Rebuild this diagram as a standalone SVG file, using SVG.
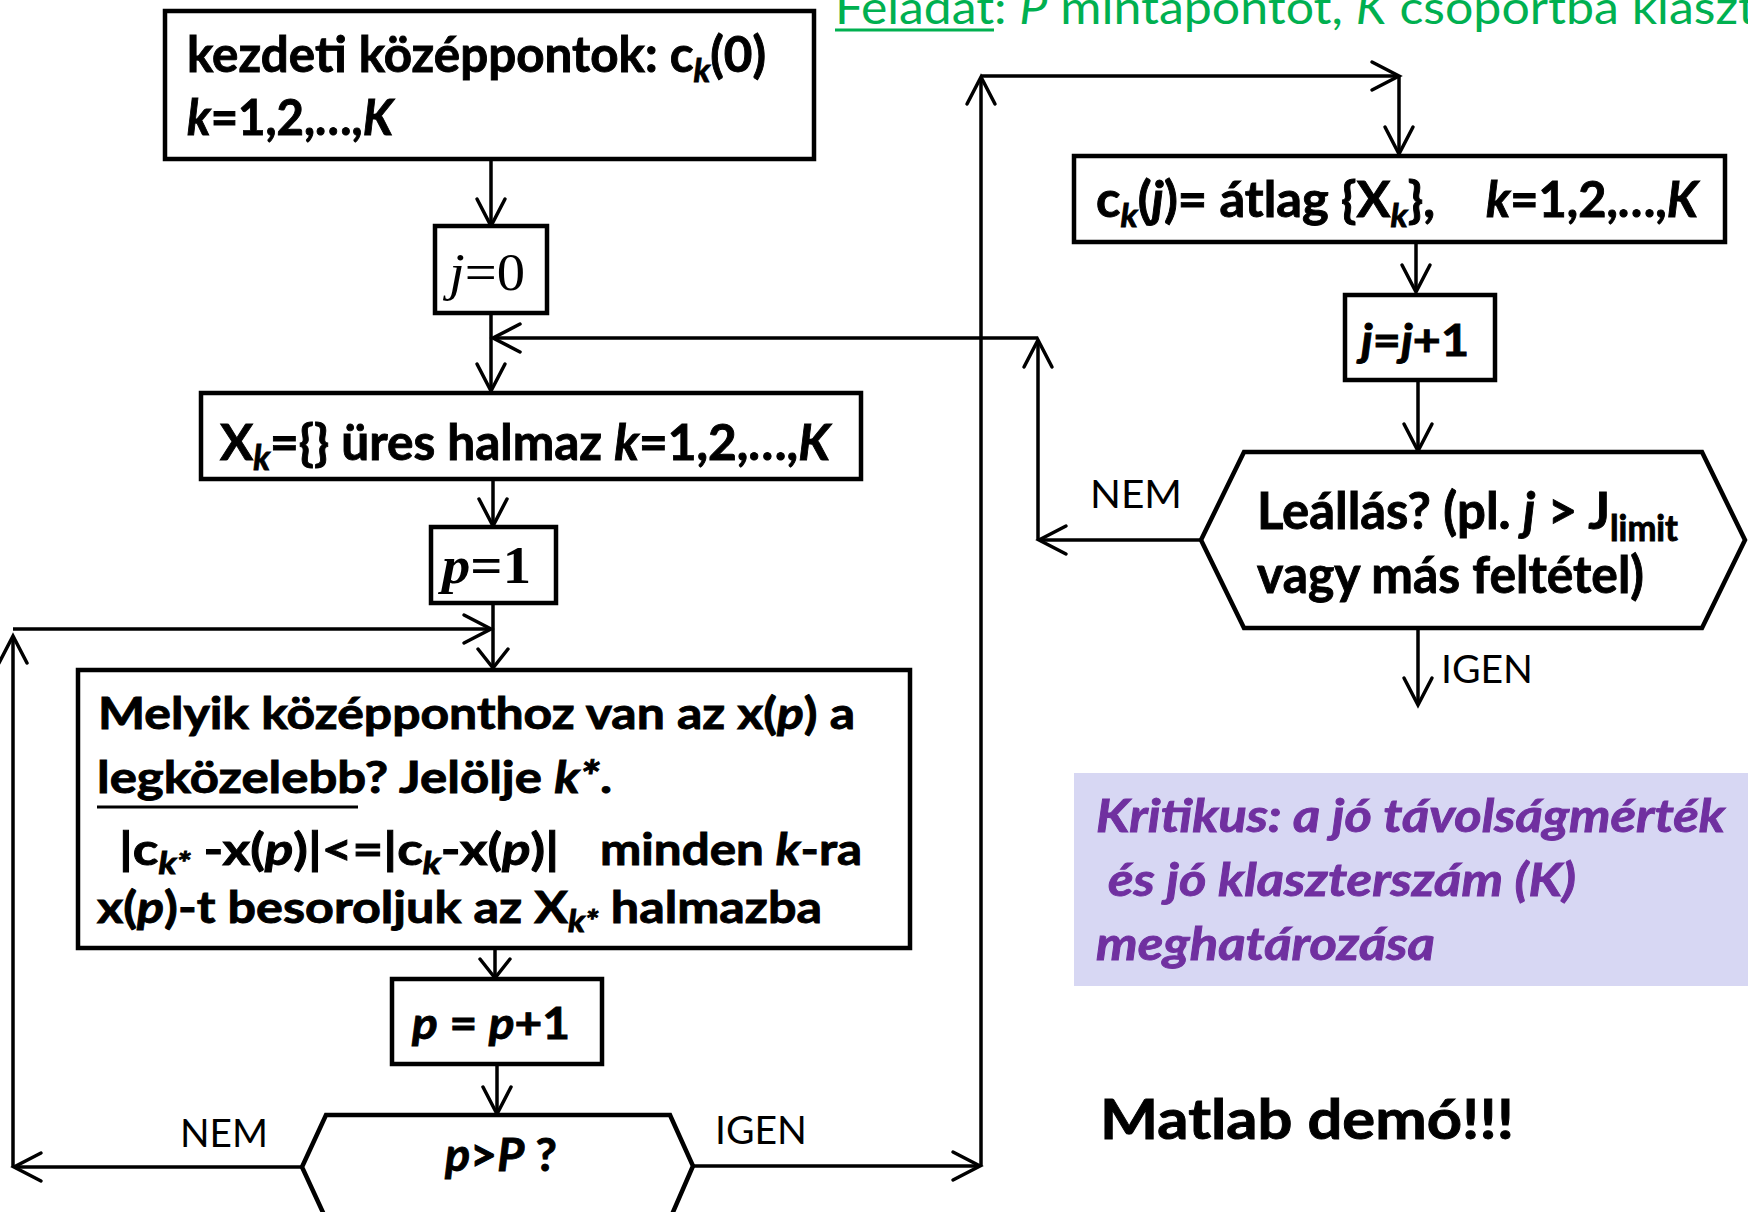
<svg xmlns="http://www.w3.org/2000/svg" width="1748" height="1212" viewBox="0 0 1748 1212">
<style>
.box{fill:#fff;stroke:#000;stroke-width:4.5;stroke-linejoin:miter}
.c{fill:none;stroke:#000;stroke-width:3.5}
.t{font-family:Lato,"Open Sans","DejaVu Sans",sans-serif;font-weight:bold;fill:#000;stroke:#000;stroke-width:0.9px}
.pu{fill:#7030A0;stroke:#7030A0}
.i{font-style:italic}
.sub{font-size:68%}
.serif{font-family:"Liberation Serif","Times New Roman",serif}
.lbl{font-family:Lato,"Open Sans","DejaVu Sans",sans-serif;font-weight:normal;font-size:39px;fill:#000}
.green{font-family:Lato,"Open Sans",sans-serif;font-size:46px;fill:#00B050}
</style>
<defs>
<marker id="a" markerUnits="userSpaceOnUse" markerWidth="40" markerHeight="40" viewBox="-34 -20 40 40" refX="0" refY="0" orient="auto">
<path d="M-27,-14 L0,0 L-27,14" fill="none" stroke="#000" stroke-width="3.5" stroke-linecap="round"/>
</marker>
<marker id="b" markerUnits="userSpaceOnUse" markerWidth="40" markerHeight="40" viewBox="-34 -20 40 40" refX="0" refY="0" orient="auto">
<path d="M-19,-15 L0,0 L-19,15" fill="none" stroke="#000" stroke-width="3.5" stroke-linecap="round"/>
</marker>
</defs>
<rect width="1748" height="1212" fill="#fff"/>

<g id="title">
<text class="green" x="835" y="24" textLength="159" lengthAdjust="spacingAndGlyphs">Feladat</text>
<text class="green" x="994" y="24" textLength="762" lengthAdjust="spacingAndGlyphs">: <tspan font-style="italic">P</tspan> mintapontot, <tspan font-style="italic">K</tspan> csoportba klaszt</text>
<line x1="835" y1="30" x2="994" y2="30" stroke="#00B050" stroke-width="3"/>
</g>

<g id="connectors">
<line class="c" x1="491" y1="159" x2="491" y2="226" marker-end="url(#a)"/>
<line class="c" x1="491" y1="313" x2="491" y2="391" marker-end="url(#a)"/>
<line class="c" x1="1038" y1="338" x2="493" y2="338" marker-end="url(#a)"/>
<line class="c" x1="493" y1="479" x2="493" y2="526" marker-end="url(#a)"/>
<line class="c" x1="493" y1="603" x2="493" y2="668" marker-end="url(#b)"/>
<line class="c" x1="13" y1="629" x2="491" y2="629" marker-end="url(#a)"/>
<line class="c" x1="13" y1="1167" x2="13" y2="636" marker-end="url(#a)"/>
<line class="c" x1="495" y1="948" x2="495" y2="978" marker-end="url(#b)"/>
<line class="c" x1="497" y1="1064" x2="497" y2="1114" marker-end="url(#a)"/>
<line class="c" x1="302" y1="1167" x2="14" y2="1167" marker-end="url(#a)"/>
<line class="c" x1="693" y1="1166" x2="980" y2="1166" marker-end="url(#a)"/>
<line class="c" x1="981" y1="1166" x2="981" y2="77" marker-end="url(#a)"/>
<line class="c" x1="981" y1="76" x2="1399" y2="76" marker-end="url(#a)"/>
<line class="c" x1="1399" y1="76" x2="1399" y2="154" marker-end="url(#a)"/>
<line class="c" x1="1416" y1="238" x2="1416" y2="292" marker-end="url(#a)"/>
<line class="c" x1="1418" y1="380" x2="1418" y2="451" marker-end="url(#a)"/>
<line class="c" x1="1201" y1="540" x2="1039" y2="540" marker-end="url(#a)"/>
<line class="c" x1="1038" y1="540" x2="1038" y2="340" marker-end="url(#a)"/>
<line class="c" x1="1418" y1="628" x2="1418" y2="705" marker-end="url(#a)"/>
<text class="lbl" x="180" y="1147" textLength="88" lengthAdjust="spacingAndGlyphs">NEM</text>
<text class="lbl" x="715" y="1144" textLength="92" lengthAdjust="spacingAndGlyphs">IGEN</text>
<text class="lbl" x="1090" y="508" textLength="92" lengthAdjust="spacingAndGlyphs">NEM</text>
<text class="lbl" x="1441" y="683" textLength="92" lengthAdjust="spacingAndGlyphs">IGEN</text>
</g>

<g id="n-box1">
<rect class="box" x="165" y="11" width="649" height="148"/>
<text class="t" x="187" y="72" font-size="49" textLength="579" lengthAdjust="spacingAndGlyphs">kezdeti középpontok: c<tspan class="sub i" dy="10">k</tspan><tspan dy="-10">(0)</tspan></text>
<text class="t" x="187" y="135" font-size="49" textLength="206" lengthAdjust="spacingAndGlyphs"><tspan class="i">k</tspan>=1,2,…,<tspan class="i">K</tspan></text>
</g>

<g id="n-j0">
<rect class="box" x="435" y="226" width="112" height="87"/>
<text class="serif" x="449" y="290" font-size="52" textLength="76" lengthAdjust="spacingAndGlyphs"><tspan class="i">j</tspan>=0</text>
</g>

<g id="n-xk">
<rect class="box" x="201" y="393" width="660" height="86"/>
<text class="t" x="220" y="460" font-size="50" textLength="610" lengthAdjust="spacingAndGlyphs">X<tspan class="sub i" dy="10">k</tspan><tspan dy="-10">={} üres halmaz </tspan><tspan class="i">k</tspan>=1,2,…,<tspan class="i">K</tspan></text>
</g>

<g id="n-p1">
<rect class="box" x="431" y="527" width="125" height="76"/>
<text class="serif" x="442" y="583" font-size="52" font-weight="bold" textLength="89" lengthAdjust="spacingAndGlyphs"><tspan class="i">p</tspan>=1</text>
</g>

<g id="n-melyik">
<rect class="box" x="78" y="670" width="832" height="278"/>
<text class="t" x="98" y="729" font-size="44" textLength="757" lengthAdjust="spacingAndGlyphs">Melyik középponthoz van az x(<tspan class="i">p</tspan>) a</text>
<text class="t" x="97" y="793" font-size="44" textLength="515" lengthAdjust="spacingAndGlyphs">legközelebb? Jelölje <tspan class="i">k*</tspan>.</text>
<line x1="97" y1="807" x2="358" y2="807" stroke="#000" stroke-width="3"/>
<text class="t" x="119" y="865" font-size="44" textLength="440" lengthAdjust="spacingAndGlyphs">|c<tspan class="sub i" dy="9">k*</tspan><tspan dy="-9"> -x(</tspan><tspan class="i">p</tspan>)|&lt;=|c<tspan class="sub i" dy="9">k</tspan><tspan dy="-9">-x(</tspan><tspan class="i">p</tspan>)|</text>
<text class="t" x="600" y="865" font-size="44" textLength="262" lengthAdjust="spacingAndGlyphs">minden <tspan class="i">k</tspan>-ra</text>
<text class="t" x="97" y="923" font-size="44" textLength="725" lengthAdjust="spacingAndGlyphs">x(<tspan class="i">p</tspan>)-t besoroljuk az X<tspan class="sub i" dy="9">k*</tspan><tspan dy="-9"> halmazba</tspan></text>
</g>

<g id="n-pp1">
<rect class="box" x="392" y="979" width="210" height="85"/>
<text class="t" x="412" y="1039" font-size="44" textLength="158" lengthAdjust="spacingAndGlyphs"><tspan class="i">p</tspan> = <tspan class="i">p</tspan>+1</text>
</g>

<g id="n-pgtP">
<polygon class="box" points="302,1167 326,1115 670,1115 693,1166 670,1219 326,1219"/>
<text class="t" x="445" y="1171" font-size="46" textLength="112" lengthAdjust="spacingAndGlyphs"><tspan class="i">p</tspan>&gt;<tspan class="i">P</tspan> ?</text>
</g>

<g id="n-ck">
<rect class="box" x="1074" y="156" width="651" height="86"/>
<text class="t" x="1096" y="217" font-size="49" textLength="339" lengthAdjust="spacingAndGlyphs">c<tspan class="sub i" dy="10">k</tspan><tspan dy="-10">(</tspan><tspan class="i">j</tspan>)= átlag {X<tspan class="sub i" dy="10">k</tspan><tspan dy="-10">},</tspan></text>
<text class="t" x="1486" y="217" font-size="49" textLength="212" lengthAdjust="spacingAndGlyphs"><tspan class="i">k</tspan>=1,2,…,<tspan class="i">K</tspan></text>
</g>

<g id="n-jj1">
<rect class="box" x="1345" y="295" width="150" height="85"/>
<text class="t" x="1361" y="356" font-size="44" textLength="108" lengthAdjust="spacingAndGlyphs"><tspan class="i">j</tspan>=<tspan class="i">j</tspan>+1</text>
</g>

<g id="n-leall">
<polygon class="box" points="1201,540 1244,452 1702,452 1745,540 1702,628 1244,628"/>
<text class="t" x="1257" y="529" font-size="52" textLength="421" lengthAdjust="spacingAndGlyphs">Leállás? (pl. <tspan class="i">j</tspan> &gt; J<tspan class="sub" dy="12">limit</tspan></text>
<text class="t" x="1257" y="593" font-size="52" textLength="387" lengthAdjust="spacingAndGlyphs">vagy más feltétel)</text>
</g>

<g id="n-note">
<rect x="1074" y="773" width="680" height="213" fill="#D7D7F3"/>
<text class="t i pu" x="1096" y="832" font-size="46" textLength="629" lengthAdjust="spacingAndGlyphs">Kritikus: a jó távolságmérték</text>
<text class="t i pu" x="1108" y="896" font-size="46" textLength="468" lengthAdjust="spacingAndGlyphs">és jó klaszterszám (K)</text>
<text class="t i pu" x="1096" y="960" font-size="46" textLength="339" lengthAdjust="spacingAndGlyphs">meghatározása</text>
</g>

<g id="n-matlab">
<text class="t" x="1100" y="1139" font-size="56" textLength="414" lengthAdjust="spacingAndGlyphs">Matlab demó!!!</text>
</g>
</svg>
